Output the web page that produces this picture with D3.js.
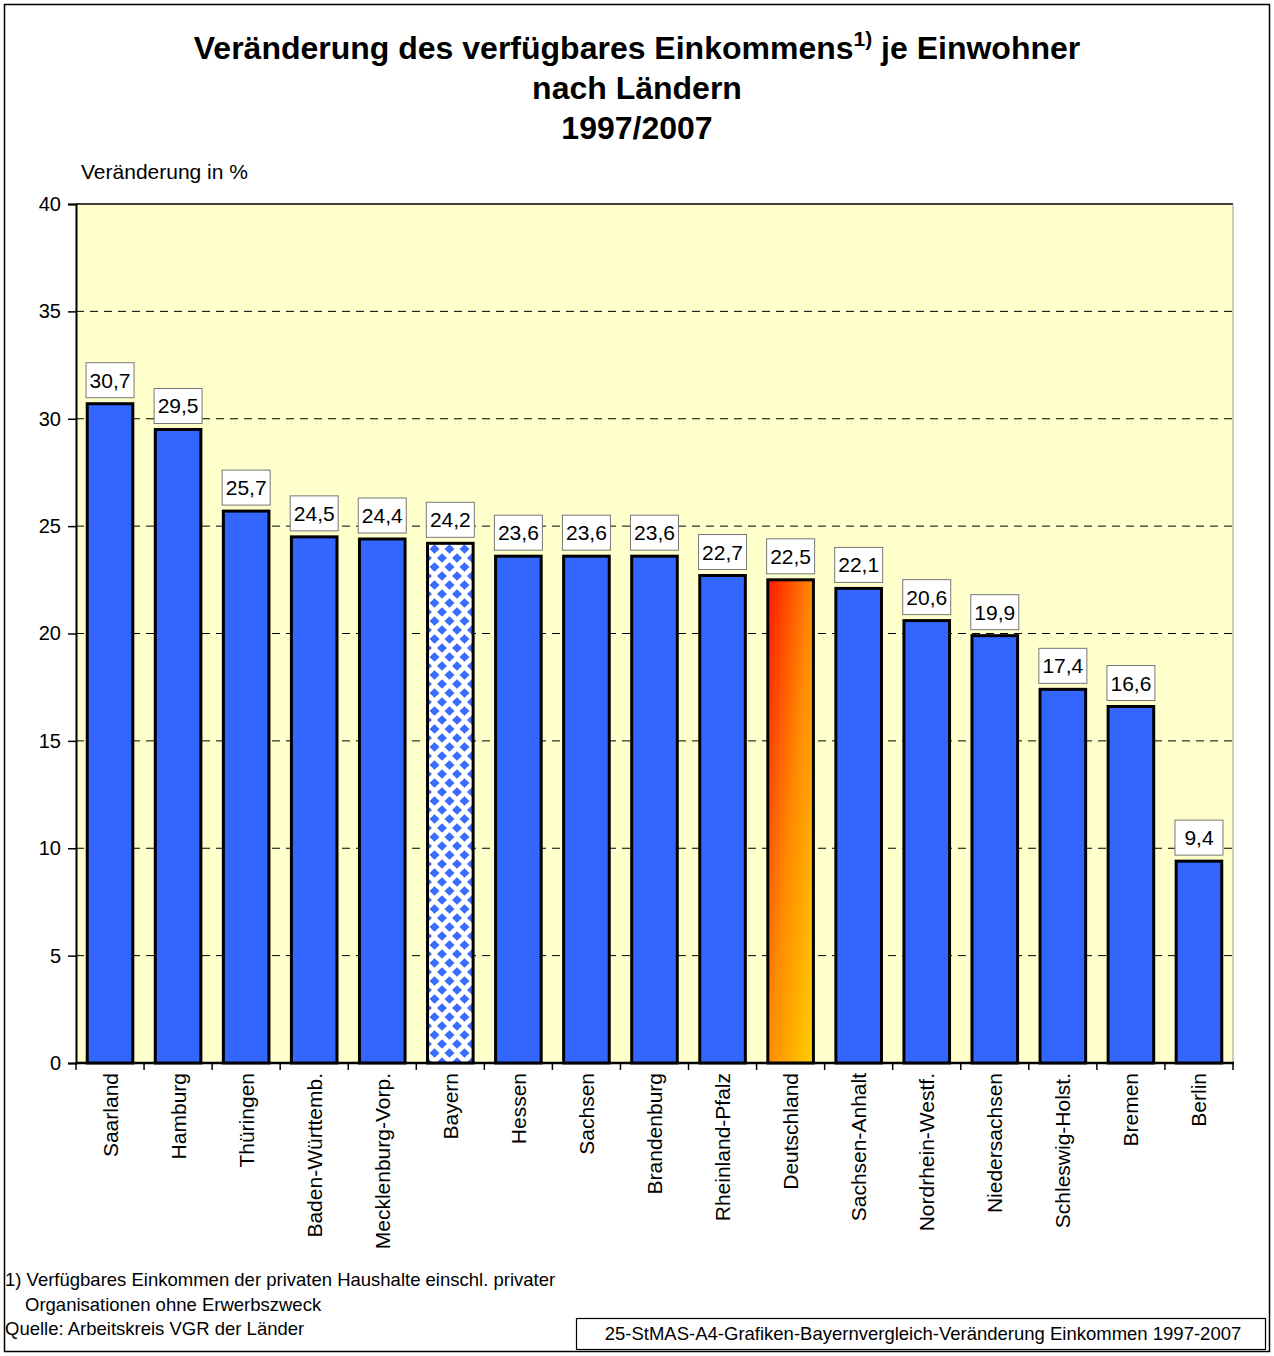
<!DOCTYPE html>
<html>
<head>
<meta charset="utf-8">
<script src="https://cdn.jsdelivr.net/npm/d3@7"></script>
<style>
  body { margin: 0; background: #fff; }
  svg { display: block; font-family: Arial, "Liberation Sans", sans-serif; }
</style>
</head>
<body>
<div id="chart"></div>
<script>
// Data
const laender = ['Saarland', 'Hamburg', 'Thüringen', 'Baden-Württemb.', 'Mecklenburg-Vorp.', 'Bayern', 'Hessen', 'Sachsen', 'Brandenburg', 'Rheinland-Pfalz', 'Deutschland', 'Sachsen-Anhalt', 'Nordrhein-Westf.', 'Niedersachsen', 'Schleswig-Holst.', 'Bremen', 'Berlin'];
const veraenderung = [30.7, 29.5, 25.7, 24.5, 24.4, 24.2, 23.6, 23.6, 23.6, 22.7, 22.5, 22.1, 20.6, 19.9, 17.4, 16.6, 9.4];
const yTicks = [0, 5, 10, 15, 20, 25, 30, 35, 40];

const W = 1274, H = 1356;
const plot = { left: 76, right: 1233, top: 204, bottom: 1063 };

const svg = d3.select('#chart').append('svg').attr('width', W).attr('height', H);
const defs = svg.append('defs');

// Bayern pattern (white/blue diamonds)
const pat = defs.append('pattern').attr('id', 'rauten')
  .attr('patternUnits', 'userSpaceOnUse').attr('width', 15).attr('height', 18)
  .attr('x', 427).attr('y', 0);
pat.append('rect').attr('width', 15).attr('height', 18).attr('fill', '#fff');
pat.append('path').attr('fill', '#3a6cff')
  .attr('d', 'M7.5,4.3 L12.5,9 L7.5,13.7 L2.5,9Z M0,-4.7 L5,0 L0,4.7 L-5,0Z M15,-4.7 L20,0 L15,4.7 L10,0Z M0,13.3 L5,18 L0,22.7 L-5,18Z M15,13.3 L20,18 L15,22.7 L10,18Z');

// Deutschland gradient
const grad = defs.append('linearGradient').attr('id', 'dgrad')
  .attr('x1', 0).attr('y1', 0).attr('x2', 1).attr('y2', 1);
grad.append('stop').attr('offset', '0%').attr('stop-color', '#ff1a00');
grad.append('stop').attr('offset', '50%').attr('stop-color', '#ff8a00');
grad.append('stop').attr('offset', '100%').attr('stop-color', '#ffd000');

// outer frame
svg.append('rect').attr('x', 4.5).attr('y', 4.5).attr('width', W - 9).attr('height', H - 9)
  .attr('fill', 'none').attr('stroke', '#000').attr('stroke-width', 1.5);

// Title
const title = svg.append('text').attr('text-anchor', 'middle').attr('font-weight', 'bold')
  .attr('font-size', 32).attr('fill', '#000');
const t1 = title.append('tspan').attr('x', 637).attr('y', 59);
t1.append('tspan').text('Veränderung des verfügbares Einkommens');
t1.append('tspan').attr('font-size', 21).attr('dy', -13).text('1)');
t1.append('tspan').attr('dy', 13).text(' je Einwohner');
title.append('tspan').attr('x', 637).attr('y', 99).text('nach Ländern');
title.append('tspan').attr('x', 637).attr('y', 139).text('1997/2007');

// Scales
const x = d3.scaleBand().domain(laender).range([plot.left, plot.right]).paddingInner(0.33).paddingOuter(0.165);
const y = d3.scaleLinear().domain([0, 40]).range([plot.bottom, plot.top]);

// Plot area
svg.append('rect').attr('x', plot.left).attr('y', plot.top)
  .attr('width', plot.right - plot.left).attr('height', plot.bottom - plot.top)
  .attr('fill', '#ffffcc');
svg.append('line').attr('x1', plot.left).attr('x2', plot.right).attr('y1', plot.top).attr('y2', plot.top)
  .attr('stroke', '#000').attr('stroke-width', 1.5);
svg.append('line').attr('x1', plot.right).attr('x2', plot.right).attr('y1', plot.top).attr('y2', plot.bottom)
  .attr('stroke', '#999').attr('stroke-width', 1);

// Grid
svg.append('g').selectAll('line').data(yTicks.filter(d => d > 0 && d < 40)).join('line')
  .attr('x1', plot.left).attr('x2', plot.right)
  .attr('y1', d => y(d)).attr('y2', d => y(d))
  .attr('stroke', '#000').attr('stroke-width', 1).attr('stroke-dasharray', '8,6');

// Y axis
const yAxis = svg.append('g').attr('transform', `translate(${plot.left},0)`)
  .call(d3.axisLeft(y).tickValues(yTicks).tickSize(8).tickPadding(7).tickFormat(d3.format('d')));
yAxis.select('.domain').attr('stroke', '#000').attr('stroke-width', 2);
yAxis.selectAll('.tick line').attr('stroke', '#000').attr('stroke-width', 1.5);
yAxis.selectAll('.tick text').attr('font-size', 20).attr('fill', '#000').attr('font-family', 'Arial, "Liberation Sans", sans-serif');

svg.append('text').attr('x', 81).attr('y', 179).attr('font-size', 21).text('Veränderung in %');

// X axis
const xAxis = svg.append('g').attr('transform', `translate(0,${plot.bottom})`);
xAxis.append('line').attr('x1', plot.left).attr('x2', plot.right + 1).attr('y1', 0).attr('y2', 0)
  .attr('stroke', '#000').attr('stroke-width', 2.5);
const step = x.step();
xAxis.selectAll('line.tk').data(d3.range(laender.length + 1)).join('line').attr('class', 'tk')
  .attr('x1', i => plot.left + i * step).attr('x2', i => plot.left + i * step)
  .attr('y1', 0).attr('y2', 7).attr('stroke', '#000').attr('stroke-width', 1.5);
xAxis.selectAll('text').data(laender).join('text')
  .attr('transform', d => `translate(${x(d) + x.bandwidth() / 2 + 7.5},10) rotate(-90)`)
  .attr('text-anchor', 'end').attr('font-size', 21).text(d => d);

// Bars
const fillFor = d => d === 'Bayern' ? 'url(#rauten)' : d === 'Deutschland' ? 'url(#dgrad)' : '#3366ff';
svg.append('g').selectAll('rect').data(laender).join('rect')
  .attr('x', d => x(d)).attr('width', x.bandwidth())
  .attr('y', (d, i) => y(veraenderung[i])).attr('height', (d, i) => plot.bottom - y(veraenderung[i]))
  .attr('fill', fillFor).attr('stroke', '#000').attr('stroke-width', 3);

// Value labels
const fmt = v => d3.format('.1f')(v).replace('.', ',');
const lab = svg.append('g').selectAll('g').data(laender).join('g')
  .attr('transform', (d, i) => `translate(${x(d) + x.bandwidth() / 2},${y(veraenderung[i]) - 5})`);
lab.append('rect').attr('x', -24).attr('y', -36).attr('width', 48).attr('height', 35)
  .attr('fill', '#fff').attr('stroke', '#777').attr('stroke-width', 1);
lab.append('text').attr('text-anchor', 'middle').attr('y', -11).attr('font-size', 21)
  .text((d, i) => fmt(veraenderung[i]));

// Footnotes
const foot = svg.append('g').attr('font-size', 18.5);
foot.append('text').attr('x', 5).attr('y', 1286).text('1) Verfügbares Einkommen der privaten Haushalte einschl. privater');
foot.append('text').attr('x', 25).attr('y', 1311).text('Organisationen ohne Erwerbszweck');
foot.append('text').attr('x', 5).attr('y', 1335).text('Quelle: Arbeitskreis VGR der Länder');

svg.append('rect').attr('x', 576.5).attr('y', 1318.5).attr('width', 689).attr('height', 31)
  .attr('fill', '#fff').attr('stroke', '#000').attr('stroke-width', 1.2);
svg.append('text').attr('x', 923).attr('y', 1340).attr('text-anchor', 'middle').attr('font-size', 18.5)
  .text('25-StMAS-A4-Grafiken-Bayernvergleich-Veränderung Einkommen 1997-2007');
</script>
</body>
</html>
